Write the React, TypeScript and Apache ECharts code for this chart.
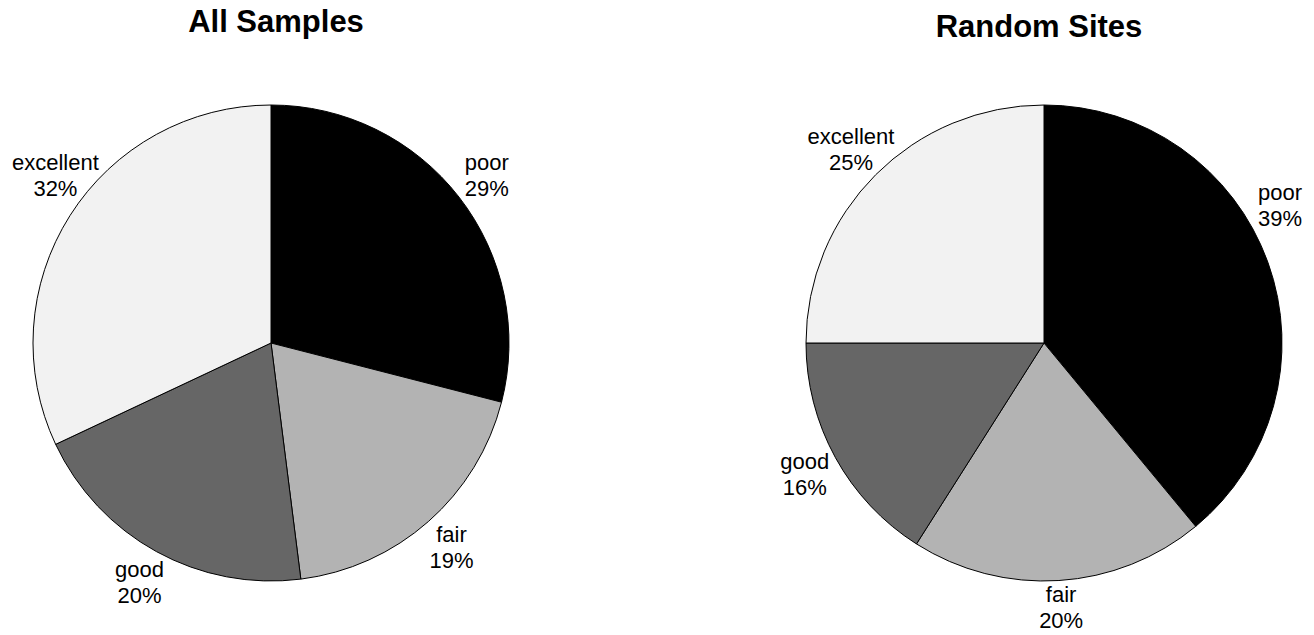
import { useEffect, useRef } from "react";
import * as echarts from "echarts";

// Condition classes, in clockwise order from 12 o'clock
const categories = ["poor", "fair", "good", "excellent"];
// Share of each class (%)
const allSamples = [29, 19, 20, 32];
const randomSites = [39, 20, 16, 25];
const panelTitles = ["All Samples", "Random Sites"];
const sliceColors = ["#000000", "#b3b3b3", "#666666", "#f2f2f2"];

const FONT = "'Liberation Sans', Arial, Helvetica, sans-serif";
const WIDTH = 1314;
const HEIGHT = 635;
const RADIUS = 238;
const LABEL_DISTANCE = 273;
const EDGE_MARGIN = 12;
const BOTTOM_MARGIN = 2;
const CENTERS: [number, number][] = [
  [271, 343],
  [1044, 343],
];
const TITLE_X = [276, 1039];
const TITLE_TOP = [6, 10.5];

// Label anchor: centre of the text block on the slice's mid-angle; when the
// block would run past a side of the page it slides along the label circle,
// and it is lifted if it would run past the bottom.
function labelAnchor(
  values: number[],
  index: number,
  center: [number, number],
  halfWidth: number,
  halfHeight: number
) {
  const total = values.reduce((a, b) => a + b, 0);
  let before = 0;
  for (let i = 0; i < index; i++) before += values[i];
  const mid = ((before + values[index] / 2) / total) * Math.PI * 2;
  let x = center[0] + LABEL_DISTANCE * Math.sin(mid);
  let y = center[1] - LABEL_DISTANCE * Math.cos(mid);
  const minX = EDGE_MARGIN + halfWidth;
  const maxX = WIDTH - EDGE_MARGIN - halfWidth;
  if (x < minX || x > maxX) {
    x = Math.min(Math.max(x, minX), maxX);
    const dx = x - center[0];
    const dy = Math.sqrt(Math.max(LABEL_DISTANCE * LABEL_DISTANCE - dx * dx, 0));
    y = center[1] + (Math.cos(mid) > 0 ? -dy : dy);
  }
  y = Math.min(y, HEIGHT - BOTTOM_MARGIN - halfHeight);
  return { x, y };
}

function pieSeries(values: number[], idx: number) {
  return {
    type: "pie",
    center: CENTERS[idx],
    radius: RADIUS,
    startAngle: 90,
    clockwise: true,
    avoidLabelOverlap: false,
    silent: true,
    data: categories.map((name, j) => ({
      name,
      value: values[j],
      itemStyle: { color: sliceColors[j] },
    })),
    itemStyle: { borderColor: "#000000", borderWidth: 1 },
    label: {
      show: true,
      position: "outside",
      formatter: (p: any) => `${p.name}\n${p.value}%`,
      fontFamily: FONT,
      fontSize: 22,
      lineHeight: 26,
      color: "#000000",
      align: "center",
    },
    labelLine: { show: false },
    labelLayout: (params: any) => {
      const halfWidth = params.labelRect ? params.labelRect.width / 2 : 0;
      const halfHeight = params.labelRect ? params.labelRect.height / 2 : 26;
      const a = labelAnchor(values, params.dataIndex, CENTERS[idx], halfWidth, halfHeight);
      return { x: a.x, y: a.y, align: "center", verticalAlign: "middle" };
    },
    emphasis: { disabled: true },
  };
}

export default function App() {
  const ref = useRef<HTMLDivElement>(null);

  useEffect(() => {
    if (!ref.current) return;
    const chart = echarts.init(ref.current, undefined, { renderer: "svg" });
    chart.setOption({
      animation: false,
      backgroundColor: "#ffffff",
      title: panelTitles.map((text, i) => ({
        text,
        left: TITLE_X[i],
        top: TITLE_TOP[i],
        textAlign: "center",
        padding: 0,
        textStyle: {
          fontFamily: FONT,
          fontSize: 31,
          lineHeight: 31,
          fontWeight: "bold",
          color: "#000000",
        },
      })),
      series: [pieSeries(allSamples, 0), pieSeries(randomSites, 1)],
    });
    return () => chart.dispose();
  }, []);

  return (
    <div
      ref={ref}
      style={{ position: "absolute", left: 0, top: 0, width: WIDTH, height: HEIGHT }}
    />
  );
}
